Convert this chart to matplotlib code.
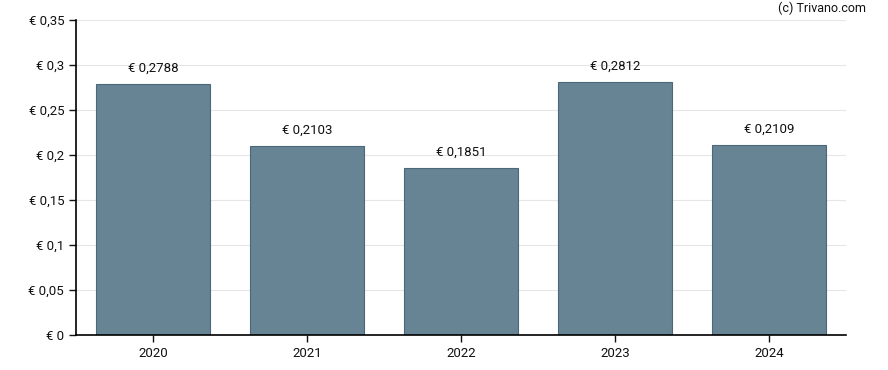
import numpy as np
import matplotlib.pyplot as plt

years = ["2020", "2021", "2022", "2023", "2024"]
values = [0.2788, 0.2103, 0.1851, 0.2812, 0.2109]
yticks = [0, 0.05, 0.1, 0.15, 0.2, 0.25, 0.3, 0.35]


def euro(v):
    s = f"{v:.4f}".rstrip("0").rstrip(".")
    return "€ " + s.replace(".", ",")


plt.rcParams['font.family'] = ['Roboto', 'DejaVu Sans']

fig = plt.figure(figsize=(8.88, 3.70), dpi=100)
ax = fig.add_axes([76 / 888, 35 / 370, 770 / 888, 315 / 370])

x = np.arange(len(years))
ax.bar(x, values, width=0.74, color="#668494", edgecolor="#4b6778", linewidth=0.8, zorder=2)
for xi, v in zip(x, values):
    ax.text(xi, v + 0.0105, euro(v), ha="center", va="bottom", fontsize=9.5, color="#111111")

ax.set_xlim(-0.5, len(years) - 0.5)
ax.set_ylim(0, 0.35)
ax.set_xticks(x)
ax.set_xticklabels(years)
ax.set_yticks(yticks)
ax.set_yticklabels([euro(t) for t in yticks])
ax.tick_params(axis="both", labelsize=9.5, colors="#111111", length=5, width=1)
ax.grid(axis="y", color="#e6e6e6", linewidth=0.8, zorder=0)
for side in ["top", "right"]:
    ax.spines[side].set_visible(False)
for side in ["left", "bottom"]:
    ax.spines[side].set_linewidth(1.2)
    ax.spines[side].set_color("black")

fig.text(866 / 888, 1 - 8 / 370, "(c) Trivano.com", ha="right", va="center", fontsize=9, color="#111111")

fig.savefig("out.png", dpi=100)
